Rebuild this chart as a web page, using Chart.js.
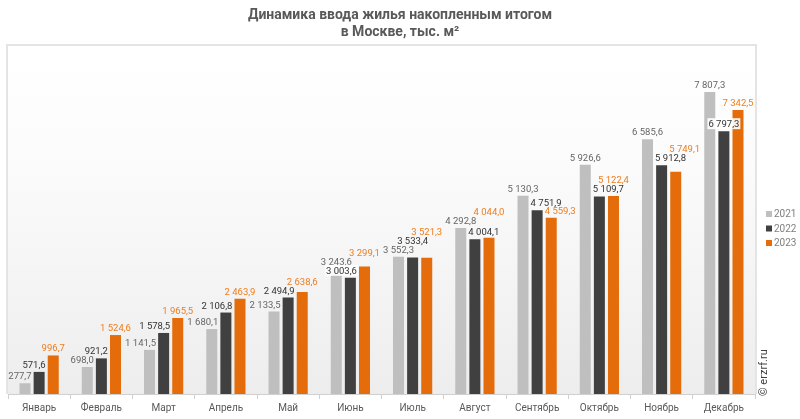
<!DOCTYPE html>
<html>
<head>
<meta charset="utf-8">
<script src="https://cdn.jsdelivr.net/npm/chart.js@4/dist/chart.umd.min.js"></script>
<style>
  html, body { margin: 0; padding: 0; background: #fff; }
</style>
</head>
<body>
<canvas id="chart" width="800" height="419"></canvas>
<script>
const months = ['Январь', 'Февраль', 'Март', 'Апрель', 'Май', 'Июнь', 'Июль', 'Август', 'Сентябрь', 'Октябрь', 'Ноябрь', 'Декабрь'];
const years = ['2021', '2022', '2023'];
const v2021 = [277.7, 698.0, 1141.5, 1680.1, 2133.5, 3243.6, 3552.3, 4292.8, 5130.3, 5926.6, 6585.6, 7807.3];
const v2022 = [571.6, 921.2, 1578.5, 2106.8, 2494.9, 3003.6, 3533.4, 4004.1, 4751.9, 5109.7, 5912.8, 6797.3];
const v2023 = [996.7, 1524.6, 1965.5, 2463.9, 2638.6, 3299.1, 3521.3, 4044.0, 4559.3, 5122.4, 5749.1, 7342.5];
const titleLines = ['Динамика ввода жилья накопленным итогом', 'в Москве, тыс. м²'];
const watermark = '© erzrf.ru';

const barColors = ['#bfbfbf', '#404040', '#e46c0a'];
const labelColors = ['#666666', '#333333', '#ef7d1e'];

// 7807.3 -> "7 807,3"
function fmt(v) {
  let parts = v.toFixed(1).split('.');
  return parts[0].replace(/\B(?=(\d{3})+(?!\d))/g, ' ') + ',' + parts[1];
}

const decor = {
  id: 'decor',
  beforeDraw(chart) {
    const ctx = chart.ctx, a = chart.chartArea;
    ctx.save();
    ctx.fillStyle = '#fff';
    ctx.fillRect(0, 0, chart.width, chart.height);
    let g = ctx.createLinearGradient(0, a.top, 0, a.bottom);
    g.addColorStop(0, '#ffffff');
    g.addColorStop(0.35, '#fbfbfb');
    g.addColorStop(1, '#ededed');
    ctx.fillStyle = g;
    ctx.fillRect(a.left, a.top, a.right - a.left, a.bottom - a.top);
    ctx.strokeStyle = '#e4e4e4';
    ctx.lineWidth = 2;
    ctx.beginPath();
    ctx.moveTo(a.left - 1, a.bottom);
    ctx.lineTo(a.left - 1, a.top - 1);
    ctx.lineTo(a.right + 1, a.top - 1);
    ctx.lineTo(a.right + 1, a.bottom);
    ctx.stroke();
    ctx.restore();
  },
  afterDraw(chart) {
    const ctx = chart.ctx;
    ctx.save();
    // title
    ctx.fillStyle = '#595959';
    ctx.font = 'bold 14px Roboto';
    ctx.textAlign = 'center';
    ctx.textBaseline = 'middle';
    ctx.fillText(titleLines[0], 400, 15);
    ctx.fillText(titleLines[1], 400, 32);

    // legend
    ctx.font = '10px Roboto';
    ctx.textAlign = 'left';
    years.forEach((y, i) => {
      let cy = 214 + i * 14.5;
      ctx.fillStyle = barColors[i];
      ctx.fillRect(766, cy - 3, 6, 6);
      ctx.fillStyle = '#7f7f7f';
      ctx.fillText(y, 774, cy + 0.5);
    });

    // watermark
    ctx.translate(764, 396);
    ctx.rotate(-Math.PI / 2);
    ctx.fillStyle = '#404040';
    ctx.font = '11px Roboto';
    ctx.textAlign = 'left';
    ctx.fillText(watermark, 0, 0);
    ctx.restore();

    // value labels: move sideways away from a taller neighbour bar,
    // then up if they still hit another label of the same month
    ctx.save();
    ctx.font = '9.5px Roboto';
    ctx.textBaseline = 'alphabetic';
    const n = chart.data.datasets.length;
    months.forEach((m, i) => {
      let bars = [];
      for (let d = 0; d < n; d++) bars.push(chart.getDatasetMeta(d).data[i]);
      let placed = [];
      bars.forEach((bar, d) => {
        let txt = fmt(chart.data.datasets[d].data[i]);
        let w = ctx.measureText(txt).width;
        let base = bar.y - 4;
        let bw = bar.width;
        let leftB = d > 0 && bars[d - 1].y < base;
        let rightB = d < n - 1 && bars[d + 1].y < base;
        let x1 = bar.x - w / 2;
        if (rightB && leftB) {
          let lUp = bar.y - bars[d - 1].y, rUp = bar.y - bars[d + 1].y;
          if (Math.min(lUp, rUp) < 12) {
            x1 = rUp < lUp ? bar.x - bw / 2 - 1 : bar.x + bw / 2 + 1 - w;
          }
        } else if (rightB) {
          x1 = bar.x + bw / 2 + 1 - w;
        } else if (leftB) {
          x1 = bar.x - bw / 2 - 1;
        }
        let moved = true;
        while (moved) {
          moved = false;
          for (let p of placed) {
            if (x1 < p.x2 && x1 + w > p.x1 && base - 7 < p.y2 && base > p.y1) {
              base = p.y1 - 2;
              moved = true;
            }
          }
        }
        let box = { x1: x1, x2: x1 + w, y1: base - 7, y2: base };
        placed.push(box);
        let overBar = bars.some((b, k) => k !== d && box.x1 < b.x + b.width / 2 && box.x2 > b.x - b.width / 2 && box.y2 > b.y);
        if (overBar) {
          ctx.fillStyle = 'rgba(255,255,255,0.9)';
          ctx.fillRect(box.x1 - 1, box.y1 - 2, w + 2, 11);
        }
        ctx.fillStyle = labelColors[d];
        ctx.textAlign = 'left';
        ctx.fillText(txt, x1, base);
      });
    });
    ctx.restore();
  }
};

const series = [v2021, v2022, v2023];
new Chart(document.getElementById('chart'), {
  type: 'bar',
  data: {
    labels: months,
    datasets: series.map((vals, i) => ({
      label: years[i],
      data: vals,
      backgroundColor: barColors[i],
      borderWidth: 0,
      categoryPercentage: 0.68,
      barPercentage: 0.78
    }))
  },
  options: {
    responsive: false,
    animation: false,
    layout: { padding: { left: 8, right: 45, top: 46, bottom: 2 } },
    plugins: {
      legend: { display: false },
      title: { display: false },
      tooltip: { enabled: false }
    },
    scales: {
      x: {
        grid: { display: true, drawOnChartArea: false, drawTicks: true, tickLength: 5, color: '#d0d0d0' },
        border: { display: true, color: '#d0d0d0' },
        ticks: { color: '#595959', font: { family: 'Roboto', size: 10 }, padding: 3, maxRotation: 0 }
      },
      y: {
        display: false,
        min: 0,
        max: 9000
      }
    }
  },
  plugins: [decor]
});
</script>
</body>
</html>
